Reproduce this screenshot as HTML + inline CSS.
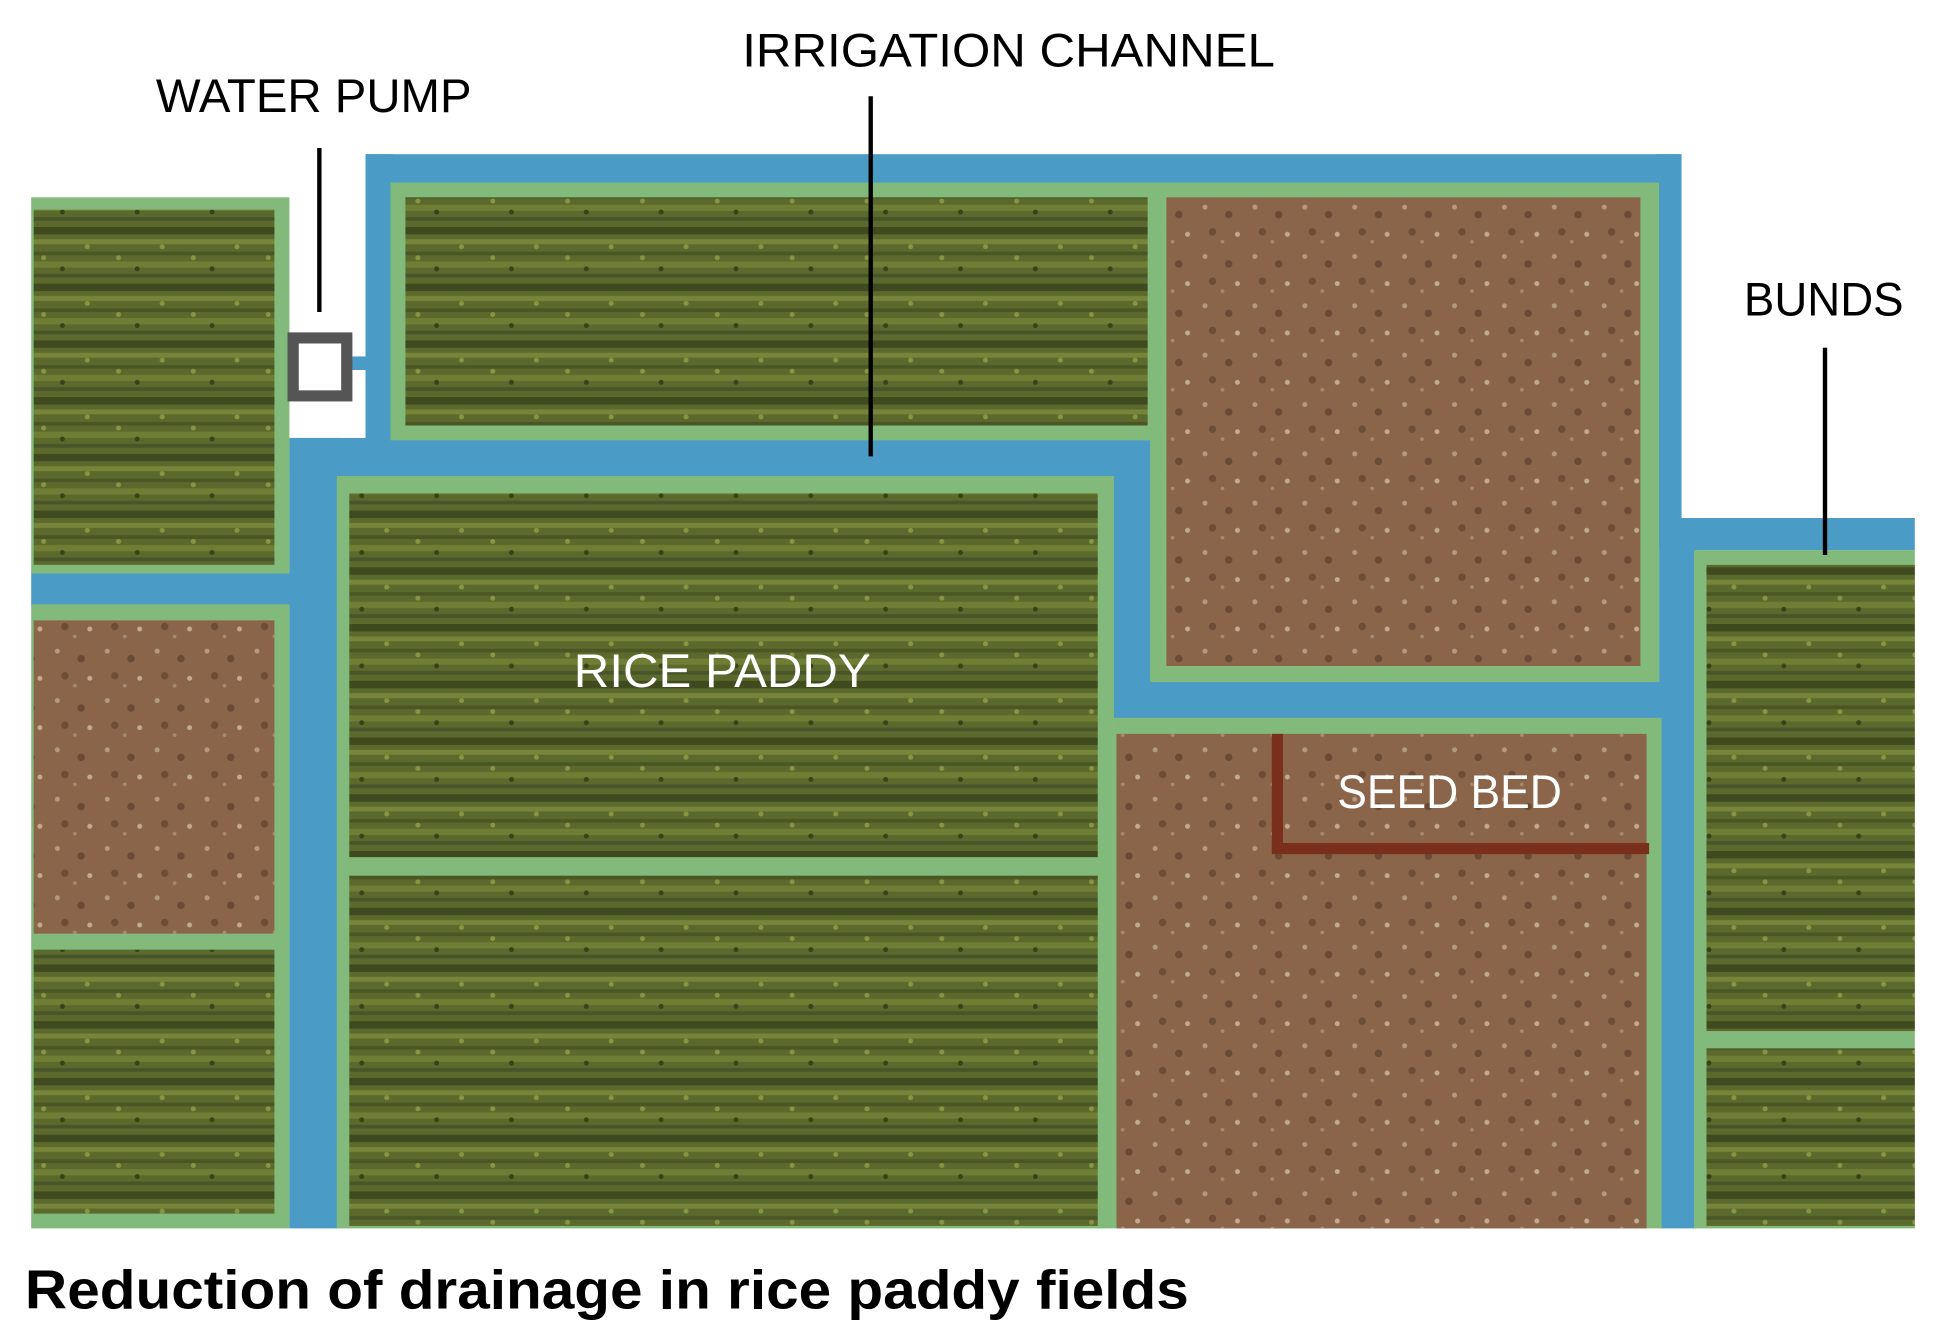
<!DOCTYPE html>
<html><head><meta charset="utf-8"><style>html,body{margin:0;padding:0;background:#fff}svg{display:block}</style></head><body>
<svg width="1946" height="1332" viewBox="0 0 1560 1080" preserveAspectRatio="none" xmlns="http://www.w3.org/2000/svg">
<defs>
<pattern id="rice" width="60" height="46" patternUnits="userSpaceOnUse">
<rect width="60" height="46" fill="#5b6a2c"/>
<rect y="0" width="60" height="6" fill="#3f4a1e"/>
<rect y="10" width="60" height="4" fill="#77843a"/>
<rect y="20" width="60" height="3" fill="#4a5724"/>
<rect y="28" width="60" height="5" fill="#6f7d35"/>
<rect y="38" width="60" height="3" fill="#48552a"/>
<circle cx="10" cy="16" r="2" fill="#8a9444"/><circle cx="35" cy="25" r="2" fill="#8a9444"/><circle cx="50" cy="34" r="2" fill="#384218"/>
</pattern>
<pattern id="soil" width="40" height="40" patternUnits="userSpaceOnUse">
<rect width="40" height="40" fill="#8b6549"/>
<circle cx="6" cy="8" r="2" fill="#b49a80"/><circle cx="25" cy="14" r="3" fill="#6a4a34"/>
<circle cx="32" cy="30" r="2" fill="#c2ab92"/><circle cx="12" cy="28" r="3" fill="#6e4d37"/>
<circle cx="20" cy="36" r="1.5" fill="#a88a70"/>
</pattern>
</defs>
<rect width="1560" height="1080" fill="#fff"/>
<!-- channels -->
<g fill="#4a9cc6">
<rect x="293" y="125" width="1054" height="25"/>
<rect x="293" y="125" width="22" height="240"/>
<rect x="1328" y="125" width="20" height="320"/>
<rect x="1340" y="420" width="195" height="26"/>
<rect x="1330" y="440" width="30" height="556"/>
<rect x="232" y="355" width="690" height="32"/>
<rect x="890" y="355" width="34" height="230"/>
<rect x="890" y="553" width="470" height="30"/>
<rect x="232" y="355" width="40" height="641"/>
<rect x="25" y="464" width="210" height="27"/>
<rect x="280" y="289" width="15" height="12"/>
</g>
<rect x="232" y="300" width="61" height="55" fill="#fff"/>
<!-- bunds -->
<g fill="#82ba7c">
<rect x="25" y="160" width="207" height="305"/>
<rect x="25" y="490" width="207" height="506"/>
<rect x="313" y="148" width="617" height="209"/>
<rect x="922" y="148" width="408" height="405"/>
<rect x="270" y="386" width="623" height="610"/>
<rect x="893" y="582" width="439" height="414"/>
<rect x="1358" y="446" width="177" height="550"/>
</g>
<!-- textures -->
<rect x="27" y="170" width="193" height="288" fill="url(#rice)"/>
<rect x="27" y="503" width="193" height="254" fill="url(#soil)"/>
<rect x="27" y="770" width="193" height="214" fill="url(#rice)"/>
<rect x="325" y="160" width="595" height="185" fill="url(#rice)"/>
<rect x="935" y="160" width="380" height="380" fill="url(#soil)"/>
<rect x="280" y="400" width="600" height="295" fill="url(#rice)"/>
<rect x="280" y="710" width="600" height="284" fill="url(#rice)"/>
<rect x="895" y="595" width="425" height="401" fill="url(#soil)"/>
<rect x="1368" y="458" width="167" height="378" fill="url(#rice)"/>
<rect x="1368" y="850" width="167" height="144" fill="url(#rice)"/>
<!-- seed bed -->
<path d="M1024 595 V688 H1322" fill="none" stroke="#7a2e1c" stroke-width="9"/>
<!-- pump -->
<rect x="235" y="274" width="43" height="47" fill="#fff" stroke="#555" stroke-width="9"/>
<!-- leader lines -->
<g stroke="#000" stroke-width="3.5">
<line x1="256" y1="120" x2="256" y2="253"/>
<line x1="698" y1="78" x2="698" y2="370"/>
<line x1="1463" y1="282" x2="1463" y2="450"/>
</g>
<g font-family="Liberation Sans, sans-serif" font-size="38">
<text x="125" y="91" textLength="253" lengthAdjust="spacingAndGlyphs">WATER PUMP</text>
<text x="595" y="54" textLength="427" lengthAdjust="spacingAndGlyphs">IRRIGATION CHANNEL</text>
<text x="1398" y="256" textLength="128" lengthAdjust="spacingAndGlyphs">BUNDS</text>
<text x="460" y="557" fill="#fff" textLength="238" lengthAdjust="spacingAndGlyphs">RICE PADDY</text>
<text x="1072" y="655" fill="#fff" textLength="180" lengthAdjust="spacingAndGlyphs">SEED BED</text>
</g>
<text x="20" y="1061" font-family="Liberation Sans, sans-serif" font-weight="bold" font-size="44" textLength="933" lengthAdjust="spacingAndGlyphs">Reduction of drainage in rice paddy fields</text>
</svg>
</body></html>
